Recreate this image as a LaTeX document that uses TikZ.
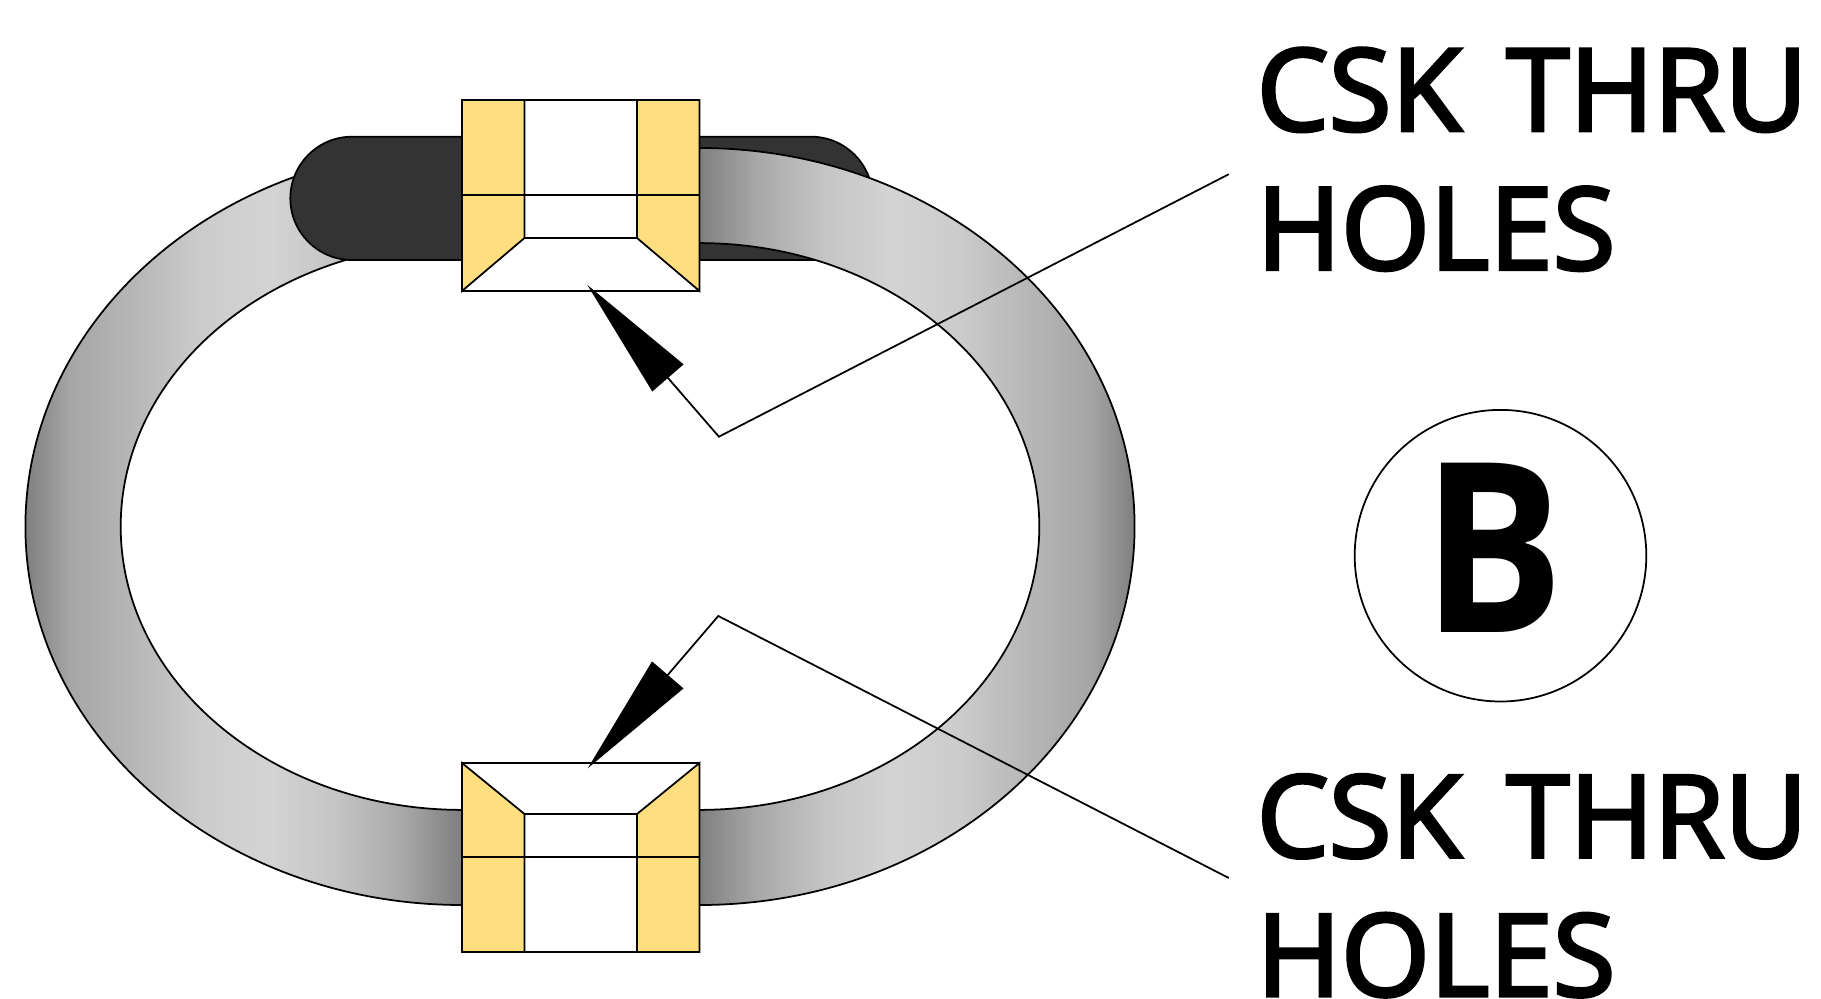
\documentclass[tikz,border=0pt]{standalone}
\usepackage{fontspec}
\usetikzlibrary{arrows.meta}
\newfontfamily\lblfont{Open Sans}[FakeBold=3]
\newfontfamily\bigfont{Open Sans}[FakeStretch=0.89]
\definecolor{capsulegray}{HTML}{333333}
\definecolor{blockyellow}{HTML}{FEDE7F}
\pgfdeclarehorizontalshading{ringgray}{100bp}{
    color(0bp)=(black!50); color(25bp)=(black!50); color(27bp)=(black!35);
    color(30bp)=(black!28); color(33bp)=(black!20); color(36bp)=(black!17);
    color(39bp)=(black!23); color(42bp)=(black!34); color(44.6bp)=(black!50);
    color(55.4bp)=(black!50); color(58bp)=(black!34); color(61bp)=(black!23);
    color(64bp)=(black!17); color(67bp)=(black!20); color(70bp)=(black!28);
    color(73bp)=(black!35); color(75bp)=(black!50); color(100bp)=(black!50)}
\newcommand{\ringpath}{
    (4.62,8.5) -- (6.995,8.5) arc[start angle=90,end angle=-90,x radius=4.351,y radius=3.785]
        -- (4.62,0.93) arc[start angle=270,end angle=90,x radius=4.366,y radius=3.785] -- cycle
    (4.62,7.549) -- (6.995,7.549) arc[start angle=90,end angle=-90,x radius=3.398,y radius=2.834]
        -- (4.62,1.881) arc[start angle=270,end angle=90,x radius=3.413,y radius=2.834] -- cycle
}
\tikzset{
    thinline/.style={line width=0.5pt},
    capsule/.style={thinline,draw=black,fill=capsulegray},
    blockface/.style={thinline,draw=black,fill=blockyellow},
    blockhole/.style={thinline,draw=black,fill=white},
    leader/.style={thinline,-{Triangle[length=1.23cm,width=0.41cm]}},
    holelabel/.style={anchor=base west,inner sep=0pt,align=left,
        font=\lblfont\fontsize{32.5}{39.5}\selectfont}
}
\begin{document}
\begin{tikzpicture}
    \useasboundingbox (0,0) rectangle (18.21,9.98);

    % right end of the capsule lies behind the ring
    \draw[capsule] (5.8,8.613) -- (8.11,8.613) arc[start angle=90,end angle=-90,radius=0.6165]
        -- (5.8,7.38) -- cycle;
    \shadedraw[thinline,even odd rule,shading=ringgray] \ringpath;
    \draw[capsule] (5.8,8.613) -- (3.52,8.613) arc[start angle=90,end angle=270,radius=0.6165]
        -- (5.8,7.38) -- cycle;

    % upper block
    \draw[blockhole] (4.62,7.07) rectangle (6.995,8.98);
    \draw[blockface] (4.62,8.98) -- (5.245,8.98) -- (5.245,7.6) -- (4.62,7.07) -- cycle;
    \draw[blockface] (6.995,8.98) -- (6.37,8.98) -- (6.37,7.6) -- (6.995,7.07) -- cycle;
    \draw[thinline] (5.245,7.6) -- (6.37,7.6);
    \draw[thinline] (4.62,8.03) -- (6.995,8.03);

    % lower block
    \draw[blockhole] (4.62,0.46) rectangle (6.995,2.35);
    \draw[blockface] (4.62,0.46) -- (5.245,0.46) -- (5.245,1.84) -- (4.62,2.35) -- cycle;
    \draw[blockface] (6.995,0.46) -- (6.37,0.46) -- (6.37,1.84) -- (6.995,2.35) -- cycle;
    \draw[thinline] (5.245,1.84) -- (6.37,1.84);
    \draw[thinline] (4.62,1.41) -- (6.995,1.41);

    % labels
    \node[holelabel] (holesTop) at (12.56,7.285) {CSK\hspace{0.15cm} THRU\\HOLES};
    \node[holelabel] (holesBottom) at (12.56,0.02) {CSK\hspace{0.15cm} THRU\\HOLES};
    \node[circle,draw,thinline,minimum size=2.916cm,inner sep=0pt,
        font=\bigfont\bfseries\fontsize{67.5}{70}\selectfont] (detailB) at (15.005,4.423)
        {\raisebox{0.15cm}{B}\kern0.14cm};

    % leaders
    \coordinate (farTop) at (12.288,8.238);
    \coordinate (elbowTop) at (7.189,5.613);
    \coordinate (tipTop) at (5.874,7.13);
    \coordinate (farBottom) at (12.288,1.2);
    \coordinate (elbowBottom) at (7.183,3.82);
    \coordinate (tipBottom) at (5.877,2.297);
    \draw[leader] (farTop) -- (elbowTop) -- (tipTop);
    \draw[leader] (farBottom) -- (elbowBottom) -- (tipBottom);
\end{tikzpicture}
\end{document}
